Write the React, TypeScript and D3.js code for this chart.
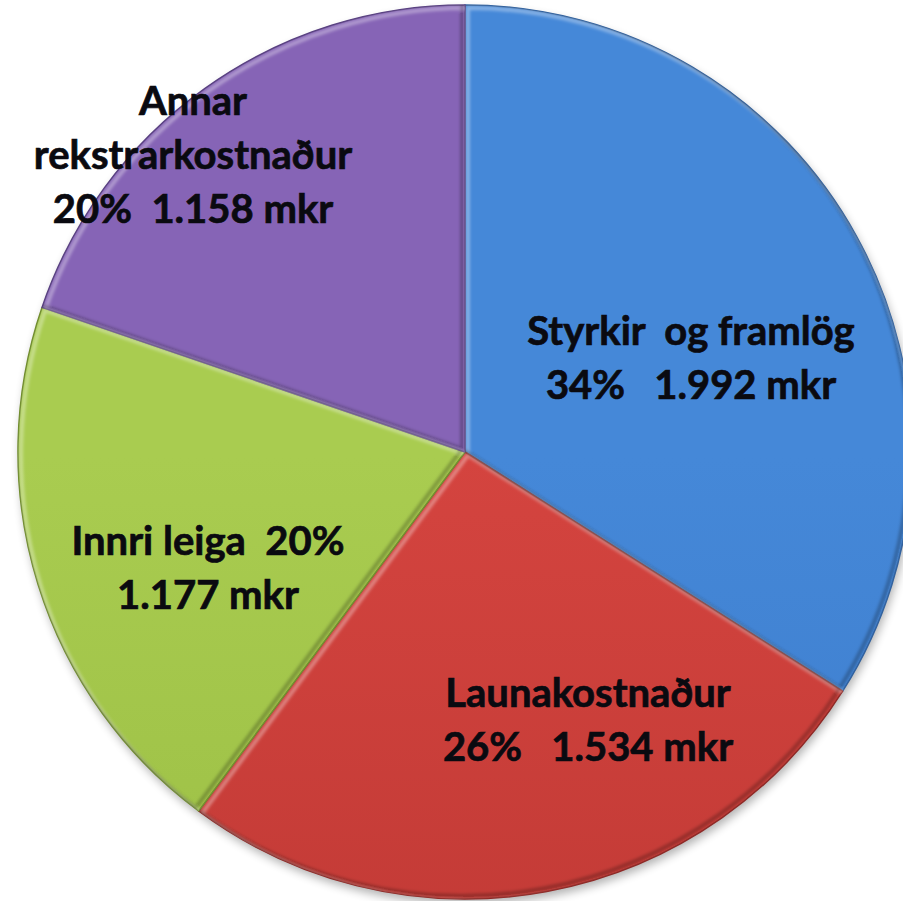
import React from "react";
import * as d3 from "d3";

// ---- data ----
const categories = ["Styrkir og framlög", "Launakostnaður", "Innri leiga", "Annar rekstrarkostnaður"];
const values = [1992, 1534, 1177, 1158];
const percentLabels = ["34%", "26%", "20%", "20%"];
const amountLabels = ["1.992 mkr", "1.534 mkr", "1.177 mkr", "1.158 mkr"];

// ---- styles / layout ----
const W = 903;
const H = 901;
const CX = 465;
const CY = 452;
const R = 447;
const colorsTop = ["#4588D8", "#D4443F", "#A9CC50", "#8664B6"];
const colorsBottom = ["#3774C3", "#B5332F", "#93B63D", "#7354A4"];
const edgeColors = ["#2D5F9E", "#8E2623", "#6F8C2A", "#573E80"];
const FONT = "Lato, 'Open Sans', sans-serif";
const FONT_SIZE = 40;
const LINE_H = 54;

// label text lines & anchor (center x, first baseline y) per slice
const labelLines: string[][] = [
  [`Styrkir  og framlög`, `${percentLabels[0]}   ${amountLabels[0]}`],
  [`Launakostnaður`, `${percentLabels[1]}   ${amountLabels[1]}`],
  [`Innri leiga  ${percentLabels[2]}`, `${amountLabels[2]}`],
  [`Annar`, `rekstrarkostnaður`, `${percentLabels[3]}  ${amountLabels[3]}`],
];
const labelAnchors: [number, number][] = [
  [691, 345],
  [588, 707],
  [208, 555],
  [193, 115],
];

export default function App() {
  const pie = d3
    .pie<number>()
    .sort(null)
    .value((d) => d)
    .startAngle(0)
    .endAngle(2 * Math.PI);
  const arcs = pie(values);
  const arc = d3.arc<d3.PieArcDatum<number>>().innerRadius(0).outerRadius(R);

  return (
    <svg
      width={W}
      height={H}
      style={{ position: "absolute", left: 0, top: 0, background: "#fff" }}
      fontFamily={FONT}
    >
      <defs>
        {arcs.map((a, i) => (
          <linearGradient
            key={"g" + i}
            id={"grad" + i}
            gradientUnits="userSpaceOnUse"
            x1={0}
            y1={CY - R}
            x2={0}
            y2={CY + R}
          >
            <stop offset="0%" stopColor={colorsTop[i]} />
            <stop offset="100%" stopColor={colorsBottom[i]} />
          </linearGradient>
        ))}
        {arcs.map((a, i) => (
          <clipPath key={"c" + i} id={"clip" + i}>
            <path d={arc(a) || ""} transform={`translate(${CX},${CY})`} />
          </clipPath>
        ))}
        <filter id="shadow" x="-10%" y="-10%" width="120%" height="120%">
          <feGaussianBlur stdDeviation="5" />
        </filter>
        <filter id="soft" x="-5%" y="-5%" width="110%" height="110%">
          <feGaussianBlur stdDeviation="1.5" />
        </filter>
      </defs>

      {/* soft shadow */}
      <circle cx={CX + 2} cy={CY + 5} r={R} fill="#000" opacity={0.3} filter="url(#shadow)" />

      <g transform={`translate(${CX},${CY})`}>
        {arcs.map((a, i) => (
          <path
            key={"s" + i}
            d={arc(a) || ""}
            fill={`url(#grad${i})`}
            stroke={edgeColors[i]}
            strokeWidth={1.5}
            strokeLinejoin="round"
          />
        ))}
      </g>

      {/* bevel highlights / shades */}
      {arcs.map((a, i) => (
        <g key={"b" + i} clipPath={`url(#clip${i})`}>
          <g filter="url(#soft)">
            <path
              d={arc(a) || ""}
              transform={`translate(${CX + 3},${CY + 3})`}
              fill="none"
              stroke="#fff"
              strokeOpacity={0.35}
              strokeWidth={4}
            />
            <path
              d={arc(a) || ""}
              transform={`translate(${CX - 3},${CY - 3})`}
              fill="none"
              stroke="#000"
              strokeOpacity={0.25}
              strokeWidth={4}
            />
          </g>
        </g>
      ))}

      {/* labels */}
      {labelLines.map((lines, i) => (
        <text
          key={"t" + i}
          x={labelAnchors[i][0]}
          y={labelAnchors[i][1]}
          textAnchor="middle"
          fontSize={FONT_SIZE}
          fontWeight={700}
          fill="#0a0a10"
          stroke="#0a0a10"
          strokeWidth={0.7}
        >
          {lines.map((ln, j) => (
            <tspan key={j} x={labelAnchors[i][0]} y={labelAnchors[i][1] + j * LINE_H} xmlSpace="preserve">
              {ln}
            </tspan>
          ))}
        </text>
      ))}
      <title>{categories.join(", ")}</title>
    </svg>
  );
}
